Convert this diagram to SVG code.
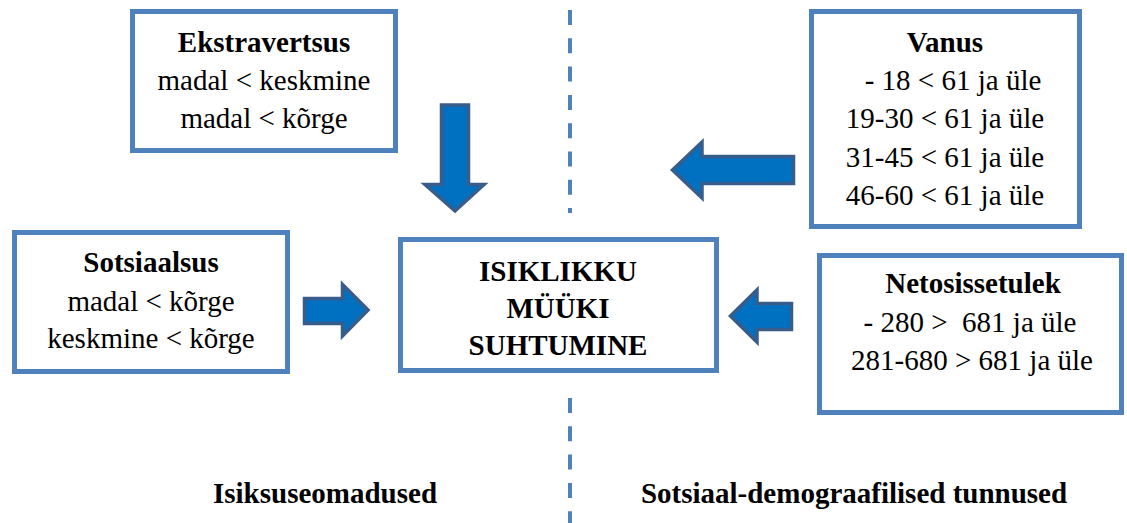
<svg xmlns="http://www.w3.org/2000/svg" width="1127" height="523" viewBox="0 0 1127 523">
<style>
.box{fill:#fff;stroke:#4f81bd;stroke-width:5}
.arr{fill:#0070c0;stroke:#385d8a;stroke-width:3.5;stroke-linejoin:miter}
.div{stroke:#4f81bd;stroke-width:4;stroke-dasharray:15 13.3;fill:none}
.t{font-family:'Liberation Serif','DejaVu Serif',serif;font-size:29px;fill:#000;text-anchor:middle}
.b{font-weight:bold}
</style>
<rect width="1127" height="523" fill="#fff"/>
<g id="divider">
<line class="div" x1="570" y1="10" x2="570" y2="213"/>
<line class="div" x1="570" y1="398" x2="570" y2="523"/>
</g>
<g id="connectors">
<path class="arr" d="M441.5,105 L468.5,105 L468.5,184.5 L484,184.5 L455,211 L425,184.5 L441.5,184.5 Z"/>
<path class="arr" d="M304.5,298.5 L342.5,298.5 L342.5,284.5 L368,310 L342.5,336 L342.5,323.5 L304.5,323.5 Z"/>
<path class="arr" d="M672.5,170 L702,142 L702,156.5 L793.5,156.5 L793.5,183.5 L702,183.5 L702,198 Z"/>
<path class="arr" d="M730.5,316 L757,290 L757,303.5 L791.5,303.5 L791.5,329.5 L757,329.5 L757,342 Z"/>
</g>
<g font-family="Liberation Serif, serif">
<g id="ekstravertsus">
<rect class="box" x="132.5" y="11.5" width="263" height="139"/>
<text class="t b" x="264" y="52">Ekstravertsus</text>
<text class="t" x="264" y="90">madal &lt; keskmine</text>
<text class="t" x="264" y="128">madal &lt; kõrge</text>
</g>
<g id="sotsiaalsus">
<rect class="box" x="14.5" y="232.5" width="273" height="139"/>
<text class="t b" x="151" y="272">Sotsiaalsus</text>
<text class="t" x="151" y="311">madal &lt; kõrge</text>
<text class="t" x="151" y="348">keskmine &lt; kõrge</text>
</g>
<g id="center">
<rect class="box" x="400.5" y="239.5" width="316" height="131"/>
<text class="t b" x="558" y="281">ISIKLIKKU</text>
<text class="t b" x="558" y="318">MÜÜKI</text>
<text class="t b" x="558" y="355">SUHTUMINE</text>
</g>
<g id="vanus">
<rect class="box" x="811.5" y="11.5" width="268" height="215"/>
<text class="t b" x="945" y="52">Vanus</text>
<text class="t" x="953" y="90">- 18 &lt; 61 ja üle</text>
<text class="t" x="945" y="128">19-30 &lt; 61 ja üle</text>
<text class="t" x="945" y="167">31-45 &lt; 61 ja üle</text>
<text class="t" x="945" y="205">46-60 &lt; 61 ja üle</text>
</g>
<g id="netosissetulek">
<rect class="box" x="819.5" y="255.5" width="302" height="157"/>
<text class="t b" x="973" y="293">Netosissetulek</text>
<text class="t" x="970" y="332" xml:space="preserve">- 280 &gt;  681 ja üle</text>
<text class="t" x="972" y="370">281-680 &gt; 681 ja üle</text>
</g>
<g id="labels">
<text class="t b" x="325" y="503">Isiksuseomadused</text>
<text class="t b" x="854" y="503">Sotsiaal-demograafilised tunnused</text>
</g>
</g>
</svg>
